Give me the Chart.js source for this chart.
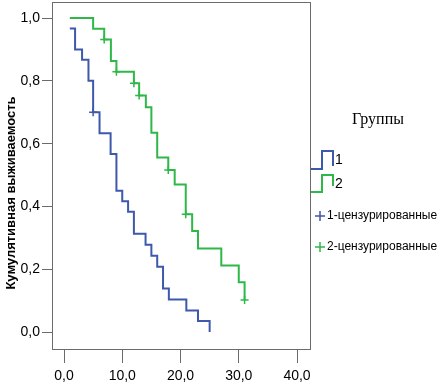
<!DOCTYPE html>
<html>
<head>
<meta charset="utf-8">
<script src="https://cdn.jsdelivr.net/npm/chart.js@4"></script>
<style>
  html, body { margin: 0; padding: 0; background: #fff; }
  #wrap { width: 439px; height: 385px; }
</style>
</head>
<body>
<div id="wrap"><canvas id="km"></canvas></div>
<script>
// Группа 1 (синяя) - моменты событий и выживаемость после них
const time1 = [1.0, 1.9, 3.1, 4.2, 5.0, 6.1, 8.0, 9.0, 10.0, 11.0, 12.0, 14.0, 15.0, 16.0, 17.0, 18.0, 21.0, 23.0, 25.0];
const surv1 = [0.967, 0.9, 0.867, 0.8, 0.7, 0.633, 0.567, 0.45, 0.417, 0.383, 0.313, 0.278, 0.243, 0.208, 0.139, 0.104, 0.069, 0.035, 0.0];
const cens1Time = [5.0];
const cens1Surv = [0.7];

// Группа 2 (зелёная)
const time2 = [1.0, 5.0, 6.9, 8.05, 9.0, 12.0, 12.9, 14.05, 15.0, 16.0, 17.9, 19.0, 20.9, 22.0, 23.0, 27.0, 30.0, 31.0];
const surv2 = [1.0, 0.966, 0.932, 0.863, 0.829, 0.792, 0.753, 0.716, 0.635, 0.556, 0.516, 0.47, 0.375, 0.322, 0.266, 0.212, 0.159, 0.102];
const cens2Time = [6.9, 9.0, 12.0, 12.9, 17.9, 20.9, 31.0];
const cens2Surv = [0.932, 0.829, 0.792, 0.753, 0.516, 0.375, 0.102];

const xTicks = [0, 10, 20, 30, 40];
const yTicks = [0, 0.2, 0.4, 0.6, 0.8, 1.0];

const blue = '#3E58AC';
const green = '#2EB848';
const axisGray = '#6b6b6b';

const toPts = (xs, ys) => xs.map((x, i) => ({ x: x, y: ys[i] }));
const comma = v => Number(v).toFixed(1).replace('.', ',');

// рамка вокруг области графика, заголовок оси Y и легенда
const decorPlugin = {
  id: 'decor',
  afterDraw: (chart) => {
    const { ctx, chartArea: { top, left, right, bottom } } = chart;
    ctx.save();
    ctx.strokeStyle = axisGray;
    ctx.lineWidth = 1;
    ctx.strokeRect(left + 0.5, top + 0.5, right - left - 1, bottom - top - 1);

    // Y title
    ctx.translate(11, 193);
    ctx.rotate(-Math.PI / 2);
    ctx.fillStyle = '#000';
    ctx.font = 'bold 13px "Liberation Sans", Arial, sans-serif';
    ctx.textAlign = 'center';
    ctx.textBaseline = 'middle';
    ctx.fillText('Кумулятивная выживаемость', 0, 0);
    ctx.restore();

    // legend
    ctx.save();
    ctx.fillStyle = '#000';
    ctx.textBaseline = 'middle';
    ctx.textAlign = 'center';
    ctx.font = '16px "Liberation Serif", "Times New Roman", serif';
    ctx.fillText('Группы', 378, 120);

    ctx.lineWidth = 2;
    ctx.strokeStyle = blue;
    ctx.beginPath();
    ctx.moveTo(311, 169); ctx.lineTo(322, 169); ctx.lineTo(322, 151);
    ctx.lineTo(333, 151); ctx.lineTo(333, 166);
    ctx.stroke();
    ctx.strokeStyle = green;
    ctx.beginPath();
    ctx.moveTo(311, 192); ctx.lineTo(322, 192); ctx.lineTo(322, 175);
    ctx.lineTo(333, 175); ctx.lineTo(333, 186);
    ctx.stroke();

    ctx.textAlign = 'left';
    ctx.font = '14px "Liberation Sans", Arial, sans-serif';
    ctx.fillText('1', 335, 160);
    ctx.fillText('2', 335, 184);

    ctx.lineWidth = 1.5;
    const cross = (cx, cy, col) => {
      ctx.strokeStyle = col;
      ctx.beginPath();
      ctx.moveTo(cx - 5, cy); ctx.lineTo(cx + 5, cy);
      ctx.moveTo(cx, cy - 5); ctx.lineTo(cx, cy + 5);
      ctx.stroke();
    };
    cross(320, 216, blue);
    cross(320, 247, green);
    ctx.font = '12px "Liberation Sans", Arial, sans-serif';
    ctx.fillText('1-цензурированные', 327, 216);
    ctx.fillText('2-цензурированные', 327, 247);
    ctx.restore();
  }
};

new Chart(document.getElementById('km').getContext('2d'), {
  type: 'line',
  data: {
    datasets: [
      {
        label: '1',
        data: toPts(time1, surv1),
        borderColor: blue,
        borderWidth: 2,
        stepped: true,
        pointRadius: 0,
        fill: false
      },
      {
        label: '2',
        data: toPts(time2, surv2),
        borderColor: green,
        borderWidth: 2,
        stepped: true,
        pointRadius: 0,
        fill: false
      },
      {
        label: '1-цензурированные',
        data: toPts(cens1Time, cens1Surv),
        showLine: false,
        pointStyle: 'cross',
        pointRadius: 4,
        borderColor: blue,
        borderWidth: 1.5
      },
      {
        label: '2-цензурированные',
        data: toPts(cens2Time, cens2Surv),
        showLine: false,
        pointStyle: 'cross',
        pointRadius: 4,
        borderColor: green,
        borderWidth: 1.5
      }
    ]
  },
  options: {
    responsive: true,
    maintainAspectRatio: false,
    animation: false,
    layout: { autoPadding: false, padding: { left: 0, top: 2, right: 128, bottom: 0 } },
    scales: {
      x: {
        type: 'linear',
        min: -2.06,
        max: 42.4,
        afterBuildTicks: (axis) => { axis.ticks = xTicks.map(v => ({ value: v })); },
        afterFit: (axis) => { axis.height = 35; axis.paddingLeft = 0; axis.paddingRight = 0; },
        border: { display: false },
        grid: { drawOnChartArea: false, drawTicks: true, tickLength: 13, color: axisGray },
        ticks: {
          color: '#000',
          padding: 5,
          maxRotation: 0,
          font: { size: 14, family: '"Liberation Sans", Arial, sans-serif' },
          callback: v => comma(v)
        }
      },
      y: {
        min: -0.057,
        max: 1.051,
        afterBuildTicks: (axis) => { axis.ticks = yTicks.map(v => ({ value: v })); },
        afterFit: (axis) => { axis.width = 52; axis.paddingTop = 0; axis.paddingBottom = 0; },
        border: { display: false },
        grid: { drawOnChartArea: false, drawTicks: true, tickLength: 10, color: axisGray },
        ticks: {
          color: '#000',
          padding: 2,
          font: { size: 14, family: '"Liberation Sans", Arial, sans-serif' },
          callback: v => comma(v)
        }
      }
    },
    plugins: {
      legend: { display: false },
      tooltip: { enabled: false }
    }
  },
  plugins: [decorPlugin]
});
</script>
</body>
</html>
